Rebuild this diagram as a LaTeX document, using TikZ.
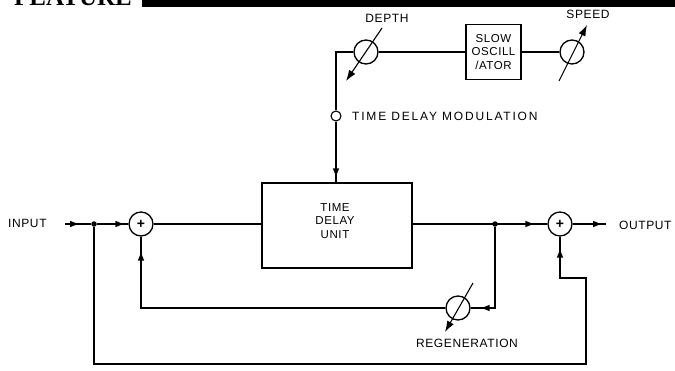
\documentclass[tikz,border=0pt]{standalone}
\usepackage{fontspec}
\setmainfont{Liberation Sans}[LetterSpace=5]
\newfontfamily\hdfont{Liberation Serif}
\newfontfamily\widefont{Liberation Sans}[LetterSpace=15]
\usetikzlibrary{arrows.meta,decorations.markings}
\begin{document}
\begin{tikzpicture}[x=1pt,y=-1pt,
 wire/.style={line width=1.3pt},
 sumnode/.style={circle,draw,line width=1.3pt,minimum size=24pt,inner sep=0pt,font=\bfseries\fontsize{14}{14}\selectfont},
 potnode/.style={circle,draw,line width=1.3pt,minimum size=24pt,inner sep=0pt},
 blockbox/.style={draw,line width=1.3pt,align=center,font=\fontsize{11.5}{13.5}\selectfont},
 lbl/.style={font=\fontsize{12}{12}\selectfont,inner sep=0pt},
 dotnode/.style={circle,fill,inner sep=0pt,minimum size=5.5pt},
 midarrow/.style={postaction={decorate},decoration={markings,mark=at position #1 with {\fill (0pt,0pt) -- (-8pt,3.2pt) -- (-8pt,-3.2pt) -- cycle;}}},
 potarrow/.style={-{Latex[length=11pt,width=7.5pt]},line width=1.1pt}
]
\useasboundingbox (0,0) rectangle (675,370);
% header
\fill (142,0) rectangle (675,7);
\node[font=\hdfont\bfseries\fontsize{25}{25}\selectfont, anchor=base west, inner sep=0pt] (hd) at (14,5) {FEATURE};
% nodes
\node[sumnode] (s1) at (141,224) {+};
\node[sumnode] (s2) at (560,224) {+};
\node[blockbox, minimum width=150pt, minimum height=85pt] (tdu) at (337,225.5) {};
\node[align=center, font=\fontsize{11.5}{13.5}\selectfont] (tdut) at (335,221) {TIME\\DELAY\\UNIT};
\node[blockbox, minimum width=55pt, minimum height=55pt, inner sep=1pt] (osc) at (493.5,52) {SLOW\\OSCILL\\/ATOR};
\node[potnode] (dep) at (366,52) {};
\node[potnode] (spd) at (572,52) {};
\node[potnode] (reg) at (458,308) {};
\node[circle,draw,line width=1.1pt,minimum size=10pt,inner sep=0pt] (tdm) at (336,116) {};
\node[dotnode] (j1) at (94,224) {};
\node[dotnode] (j2) at (495,224) {};
% labels
\node[lbl,anchor=west] (inl) at (8,223) {INPUT};
\node[lbl,anchor=west] (outl) at (619,225) {OUTPUT};
\node[lbl] (depl) at (387,18) {DEPTH};
\node[lbl] (spdl) at (588,14) {SPEED};
\node[lbl] (regl) at (467,343) {REGENERATION};
\node[lbl,anchor=west,font=\widefont\fontsize{12}{12}\selectfont] (tdml) at (352,116) {TIME DELAY MODULATION};
% coordinates
\coordinate (inS) at (65,224);
\coordinate (outE) at (606,224);
\coordinate (cBR) at (586,364);
\coordinate (cStep) at (560,278);
\coordinate (depA) at (382,28);
\coordinate (depB) at (346,81);
\coordinate (spdA) at (559,81);
\coordinate (spdB) at (587,25);
\coordinate (regA) at (473,283);
\coordinate (regB) at (445,332);
% connectors
\draw[wire,midarrow=0.5] (inS) -- (j1);
\draw[wire,midarrow=-5pt] (j1) -- (s1.west);
\draw[wire] (s1.east) -- (tdu.west |- s1.east);
\draw[wire,midarrow=-14pt] (tdu.east |- s2.west) -- (s2.west);
\draw[wire,midarrow=-5pt] (s2.east) -- (outE);
\draw[wire,midarrow=-11pt] (j2) |- (reg.east);
\draw[wire,midarrow=-16pt] (reg.west) -| (s1.south);
\draw[wire,midarrow=-13pt] (j1) |- (cBR) |- (cStep) -- (s2.south);
\draw[wire] (dep.west) -| (tdm.north);
\draw[wire,midarrow=-6pt] (tdm.south) -- (tdm |- tdu.north);
\draw[wire] (dep.east) -- (osc.west);
\draw[wire] (osc.east) -- (spd.west);
% pot arrows
\draw[potarrow] (depA) -- (depB);
\draw[potarrow] (spdA) -- (spdB);
\draw[potarrow] (regA) -- (regB);
\end{tikzpicture}
\end{document}
